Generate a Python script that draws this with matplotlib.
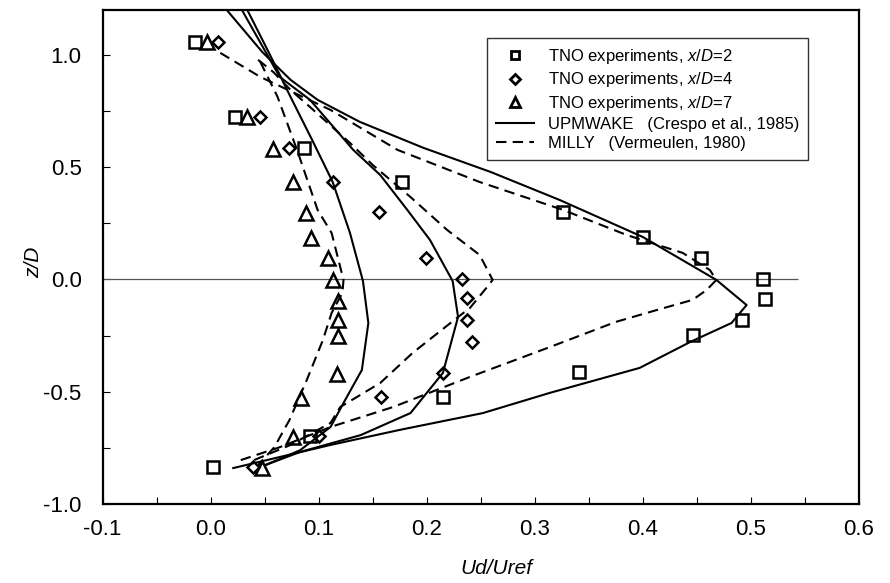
import matplotlib
matplotlib.use("Agg")
import matplotlib.pyplot as plt
from matplotlib.ticker import MultipleLocator, FormatStrFormatter

plt.rcParams['font.family'] = ['Liberation Sans', 'DejaVu Sans']
plt.rcParams['mathtext.fontset'] = 'custom'
plt.rcParams['mathtext.it'] = 'Liberation Sans:italic'
plt.rcParams['mathtext.rm'] = 'Liberation Sans'

# ---- experimental data (TNO) ----
sq_x = [-0.014, 0.023, 0.086, 0.177, 0.326, 0.400, 0.454, 0.511, 0.513, 0.492, 0.446, 0.341, 0.215, 0.092, 0.002]
sq_z = [1.058, 0.724, 0.586, 0.434, 0.301, 0.189, 0.096, 0.002, -0.087, -0.180, -0.247, -0.412, -0.523, -0.698, -0.835]

di_x = [0.007, 0.046, 0.073, 0.113, 0.156, 0.199, 0.233, 0.237, 0.237, 0.242, 0.215, 0.158, 0.100, 0.039]
di_z = [1.058, 0.724, 0.586, 0.434, 0.301, 0.096, 0.002, -0.082, -0.180, -0.278, -0.416, -0.523, -0.697, -0.835]

tr_x = [-0.003, 0.034, 0.058, 0.076, 0.088, 0.093, 0.109, 0.113, 0.118, 0.118, 0.118, 0.117, 0.084, 0.076, 0.048]
tr_z = [1.058, 0.724, 0.581, 0.434, 0.296, 0.185, 0.096, -0.002, -0.096, -0.180, -0.252, -0.421, -0.528, -0.702, -0.840]

# ---- UPMWAKE (solid) ----
up2_x = [0.015, 0.048, 0.074, 0.099, 0.138, 0.197, 0.259, 0.323, 0.400, 0.468, 0.496, 0.482, 0.444, 0.397, 0.314, 0.252, 0.175, 0.111, 0.021]
up2_z = [1.200, 1.012, 0.889, 0.800, 0.702, 0.586, 0.479, 0.354, 0.189, -0.002, -0.114, -0.194, -0.278, -0.394, -0.505, -0.595, -0.670, -0.737, -0.840]

up4_x = [0.029, 0.064, 0.092, 0.132, 0.157, 0.182, 0.203, 0.224, 0.229, 0.215, 0.185, 0.139, 0.083, 0.051]
up4_z = [1.200, 0.902, 0.800, 0.577, 0.465, 0.310, 0.176, -0.007, -0.167, -0.416, -0.595, -0.693, -0.768, -0.826]

up7_x = [0.034, 0.055, 0.074, 0.094, 0.113, 0.129, 0.141, 0.146, 0.140, 0.123, 0.111, 0.083, 0.051]
up7_z = [1.200, 1.000, 0.813, 0.621, 0.434, 0.207, -0.007, -0.194, -0.403, -0.550, -0.657, -0.760, -0.826]

# ---- MILLY (dashed) ----
mi2_x = [0.009, 0.046, 0.111, 0.173, 0.249, 0.326, 0.385, 0.437, 0.462, 0.468, 0.459, 0.446, 0.413, 0.375, 0.314, 0.240, 0.169, 0.111, 0.064, 0.027]
mi2_z = [1.009, 0.902, 0.755, 0.577, 0.434, 0.310, 0.198, 0.118, 0.042, -0.002, -0.047, -0.091, -0.136, -0.189, -0.301, -0.434, -0.568, -0.657, -0.747, -0.806]

mi4_x = [0.044, 0.058, 0.074, 0.092, 0.129, 0.150, 0.185, 0.219, 0.249, 0.261, 0.256, 0.240, 0.228, 0.187, 0.157, 0.120, 0.111, 0.074, 0.036]
mi4_z = [0.978, 0.924, 0.844, 0.768, 0.608, 0.510, 0.367, 0.220, 0.109, -0.002, -0.033, -0.127, -0.171, -0.327, -0.461, -0.568, -0.639, -0.737, -0.813]

mi7_x = [0.046, 0.062, 0.080, 0.099, 0.112, 0.123, 0.122, 0.112, 0.104, 0.089, 0.073, 0.059, 0.044]
mi7_z = [0.969, 0.813, 0.577, 0.310, 0.207, -0.002, -0.060, -0.149, -0.269, -0.448, -0.626, -0.747, -0.827]

zero_line = [0.0, -0.1, 0.544]  # z, x start, x end

fig = plt.figure(figsize=(8.9, 5.83), dpi=100)
ax = fig.add_axes([102.5 / 890, 1 - 504 / 583, 756.5 / 890, 494 / 583])

ax.hlines(zero_line[0], zero_line[1], zero_line[2], color='#555555', lw=0.9)

lw = 1.5
dash = (0, (5, 3))
for xs, zs in [(up2_x, up2_z), (up4_x, up4_z), (up7_x, up7_z)]:
    ax.plot(xs, zs, 'k-', lw=lw)
for xs, zs in [(mi2_x, mi2_z), (mi4_x, mi4_z), (mi7_x, mi7_z)]:
    ax.plot(xs, zs, color='k', ls=dash, lw=lw)

mew = 1.8
ax.plot(sq_x, sq_z, 's', ms=9, mfc='none', mec='k', mew=mew, ls='none')
ax.plot(di_x, di_z, 'D', ms=6.3, mfc='none', mec='k', mew=mew, ls='none')
ax.plot(tr_x, tr_z, '^', ms=9.5, mfc='none', mec='k', mew=mew, ls='none')

# legend handles
h1, = ax.plot([], [], 's', ms=5.5, mfc='none', mec='k', mew=2)
h2, = ax.plot([], [], 'D', ms=5, mfc='none', mec='k', mew=2)
h3, = ax.plot([], [], '^', ms=6.5, mfc='none', mec='k', mew=2)
h4, = ax.plot([], [], 'k-', lw=1.5)
h5, = ax.plot([], [], color='k', ls=(0, (5, 3)), lw=1.5)
labels = [r'TNO experiments, $x/D$=2', r'TNO experiments, $x/D$=4', r'TNO experiments, $x/D$=7',
          'UPMWAKE   (Crespo et al., 1985)', 'MILLY   (Vermeulen, 1980)']
leg = ax.legend([h1, h2, h3, h4, h5], labels, loc='upper left', bbox_to_anchor=(0.508, 0.943),
                borderaxespad=0, fontsize=12, frameon=True, fancybox=False, edgecolor='k',
                handlelength=2.3, handletextpad=0.8, labelspacing=0.25, borderpad=0.55)
leg.get_frame().set_linewidth(1.0)

ax.set_xlim(-0.1, 0.6)
ax.set_ylim(-1.0, 1.2)
ax.xaxis.set_major_locator(MultipleLocator(0.1))
ax.xaxis.set_minor_locator(MultipleLocator(0.05))
ax.yaxis.set_major_locator(MultipleLocator(0.5))
ax.yaxis.set_minor_locator(MultipleLocator(0.25))
ax.xaxis.set_major_formatter(FormatStrFormatter('%.1f'))
ax.yaxis.set_major_formatter(FormatStrFormatter('%.1f'))
ax.tick_params(which='both', direction='in', top=False, right=False, labelsize=16, width=0.8, length=5)
ax.tick_params(axis='x', which='major', pad=11)
ax.tick_params(axis='y', which='major', pad=15)
for s in ax.spines.values():
    s.set_linewidth(1.6)

ax.set_xlabel('Ud/Uref', fontsize=15, style='italic')
ax.set_ylabel('z/D', fontsize=15, style='italic')
ax.xaxis.set_label_coords(0.521, -0.112)
ax.yaxis.set_label_coords(-0.078, 0.49)

fig.savefig('out.png', dpi=100)
